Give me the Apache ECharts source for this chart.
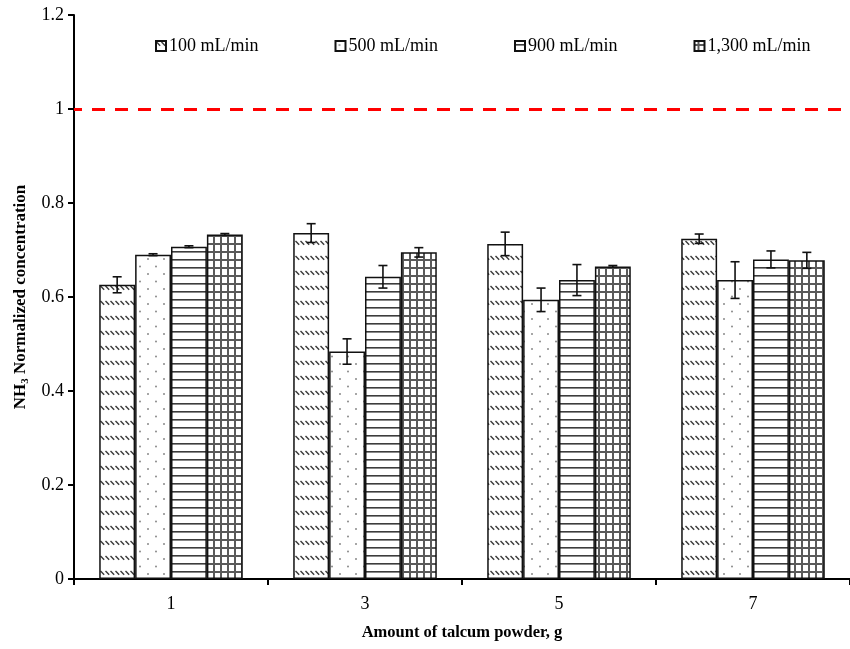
<!DOCTYPE html>
<html>
<head>
<meta charset="utf-8">
<script src="https://cdn.jsdelivr.net/npm/echarts@6/dist/echarts.min.js"></script>
<style>
  html, body { margin: 0; padding: 0; background: #fff; }
  #chart { width: 850px; height: 649px; }
</style>
</head>
<body>
<div id="chart"></div>
<script>
// Amount of talcum powder (g) on the category axis
const categories = ['1', '3', '5', '7'];
const flowNames = ['100 mL/min', '500 mL/min', '900 mL/min', '1,300 mL/min'];

// Normalized NH3 concentration per flow rate, one value per talcum amount
const flow100 = [0.626, 0.736, 0.713, 0.724];
const flow500 = [0.690, 0.484, 0.594, 0.636];
const flow900 = [0.707, 0.643, 0.636, 0.680];
const flow1300 = [0.733, 0.695, 0.665, 0.678];

// Error bar half-lengths
const err100 = [0.017, 0.020, 0.025, 0.010];
const err500 = [0.002, 0.027, 0.025, 0.039];
const err900 = [0.002, 0.024, 0.033, 0.018];
const err1300 = [0.002, 0.010, 0.002, 0.017];

// Inlet reference level
const referenceLevel = 1;

const yTicks = { min: 0, max: 1.2, interval: 0.2 };

const seriesValues = [flow100, flow500, flow900, flow1300];
const seriesErrors = [err100, err500, err900, err1300];

// ---- fill patterns for the bars ----
function tile(w, h, draw) {
  const c = document.createElement('canvas');
  c.width = w; c.height = h;
  const ctx = c.getContext('2d');
  ctx.fillStyle = '#ffffff';
  ctx.fillRect(0, 0, w, h);
  draw(ctx);
  return { image: c, repeat: 'repeat' };
}
const patterns = [
  // short diagonal dashes in rows
  tile(5, 15, ctx => {
    ctx.strokeStyle = '#3a3a3a'; ctx.lineWidth = 1.4;
    ctx.beginPath(); ctx.moveTo(0.5, 1); ctx.lineTo(4.2, 4.8); ctx.stroke();
  }),
  // sparse staggered dots
  tile(16, 15, ctx => {
    ctx.fillStyle = '#8a8a8a';
    ctx.beginPath(); ctx.arc(4, 4, 1, 0, Math.PI * 2); ctx.fill();
    ctx.beginPath(); ctx.arc(12, 11.5, 1, 0, Math.PI * 2); ctx.fill();
  }),
  // horizontal lines
  tile(8, 8, ctx => {
    ctx.fillStyle = '#3c3c3c';
    ctx.fillRect(0, 3, 8, 1.6);
  }),
  // grid
  tile(7, 8, ctx => {
    ctx.fillStyle = '#5a5a5a';
    ctx.fillRect(0, 3, 7, 2);
    ctx.fillRect(3, 0, 2, 8);
  })
];

const serif = '"Liberation Serif", "Times New Roman", serif';
const barGapRatio = 0.26;

const chart = echarts.init(document.getElementById('chart'), null, { renderer: 'canvas' });

const barSeries = flowNames.map((name, i) => ({
  name: name,
  type: 'bar',
  data: seriesValues[i],
  barGap: '0%',
  barCategoryGap: (barGapRatio * 100) + '%',
  itemStyle: { color: patterns[i], borderColor: '#111', borderWidth: 1.5 },
  emphasis: { disabled: true },
  z: 2
}));

barSeries[0].markLine = {
  silent: true,
  symbol: 'none',
  label: { show: false },
  lineStyle: { color: '#ff0000', type: [13, 10], dashOffset: 5, width: 3 },
  data: [{ yAxis: referenceLevel }]
};

// error bar records: [category index, value, half-length, series index]
const errData = [];
seriesValues.forEach((vals, s) => {
  vals.forEach((v, c) => errData.push([c, v, seriesErrors[s][c], s]));
});

const errorSeries = {
  type: 'custom',
  silent: true,
  z: 5,
  data: errData,
  encode: { x: 0, y: 1 },
  renderItem: function (params, api) {
    const c = api.value(0), v = api.value(1), e = api.value(2), s = api.value(3);
    const band = api.size([1, 0])[0];
    const barW = band * (1 - barGapRatio) / seriesValues.length;
    const dx = (s - (seriesValues.length - 1) / 2) * barW;
    const top = api.coord([c, v + e]);
    const bot = api.coord([c, v - e]);
    const x = top[0] + dx;
    const cap = 4.5;
    const style = { stroke: '#111', lineWidth: 1.6, fill: null };
    return {
      type: 'group',
      children: [
        { type: 'line', shape: { x1: x, y1: top[1], x2: x, y2: bot[1] }, style: style },
        { type: 'line', shape: { x1: x - cap, y1: top[1], x2: x + cap, y2: top[1] }, style: style },
        { type: 'line', shape: { x1: x - cap, y1: bot[1], x2: x + cap, y2: bot[1] }, style: style }
      ]
    };
  }
};

chart.setOption({
  animation: false,
  backgroundColor: '#ffffff',
  legend: {
    data: flowNames,
    left: 155,
    top: 37,
    padding: 0,
    itemWidth: 10,
    itemHeight: 10,
    itemGap: 76,
    icon: 'rect',
    textStyle: { fontFamily: serif, fontSize: 18, color: '#000', padding: [0, 0, 0, -2] },
    selectedMode: false
  },
  grid: { left: 74, width: 780, top: 15, bottom: 70, containLabel: false },
  xAxis: {
    type: 'category',
    data: categories,
    name: 'Amount of talcum powder, g',
    nameLocation: 'middle',
    nameGap: 45,
    nameTextStyle: { fontFamily: serif, fontSize: 16.5, fontWeight: 'bold', color: '#000' },
    axisLine: { lineStyle: { color: '#000', width: 2 } },
    axisTick: { show: true, length: 6, lineStyle: { color: '#000', width: 2 } },
    axisLabel: { fontFamily: serif, fontSize: 18, color: '#000', margin: 16 }
  },
  yAxis: {
    type: 'value',
    min: yTicks.min,
    max: yTicks.max,
    interval: yTicks.interval,
    name: '{b|NH}{sub|3}{b| Normalized concentration}',
    nameLocation: 'middle',
    nameGap: 41,
    nameRotate: 90,
    nameTextStyle: {
      color: '#000',
      rich: {
        b: { fontFamily: serif, fontSize: 17, fontWeight: 'bold', color: '#000' },
        sub: { fontFamily: serif, fontSize: 11, fontWeight: 'bold', color: '#000', padding: [9, 0, 0, 0] }
      }
    },
    splitLine: { show: false },
    axisLine: { show: true, lineStyle: { color: '#000', width: 2 } },
    axisTick: { show: true, length: 6, lineStyle: { color: '#000', width: 2 } },
    axisLabel: { fontFamily: serif, fontSize: 18, color: '#000', margin: 10 }
  },
  series: barSeries.concat([errorSeries])
});
</script>
</body>
</html>
